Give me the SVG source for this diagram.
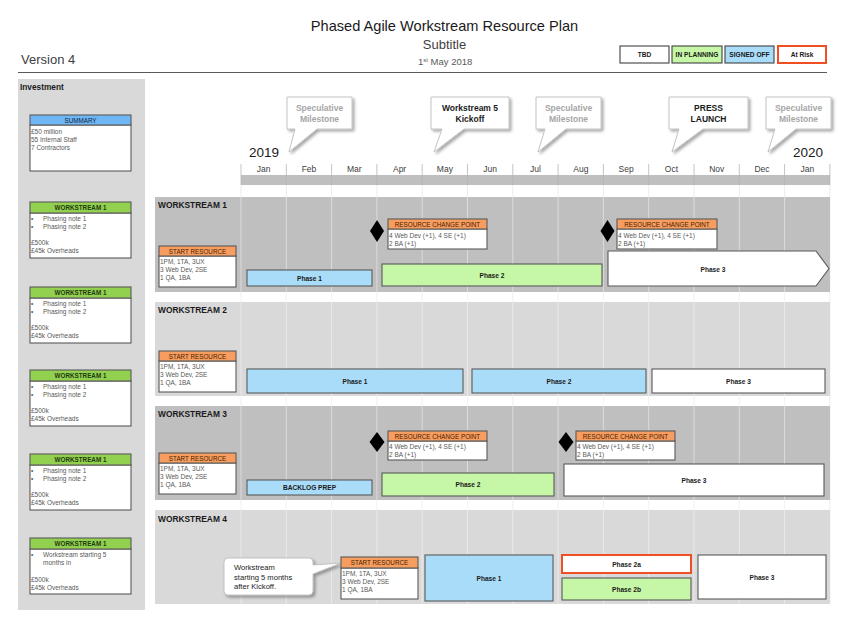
<svg xmlns="http://www.w3.org/2000/svg" width="850" height="638" viewBox="0 0 850 638">
<defs>
<filter id="sh" x="-20%" y="-20%" width="150%" height="160%"><feDropShadow dx="2" dy="2" stdDeviation="1.4" flood-color="#000" flood-opacity="0.35"/></filter>
<style>
text{font-family:"Liberation Sans",Arial,sans-serif}
.bx{stroke:#595959;stroke-width:1.1}
.wh{fill:#ffffff}
.bl{fill:#a9dcf8}
.gr{fill:#c6f7a6}
.or{fill:#f79d5f}
.lg{fill:#92d050}
.sm{fill:#6fb6f5}
.b{font-size:6.5px;fill:#595959}
.hd{font-size:6.3px;text-anchor:middle}
.oh{fill:#4a1e00}
.gh{fill:#1f3a0f;font-weight:bold}
.ph{font-size:6.6px;font-weight:bold;fill:#1a1a1a;text-anchor:middle}
.ws{font-size:8.4px;font-weight:bold;fill:#1a1a1a}
.mo{font-size:8.5px;fill:#404040;text-anchor:middle}
.co{fill:#ffffff;stroke:#bdbdbd;stroke-width:0.9;filter:url(#sh)}
.ct{font-size:8.5px;font-weight:bold;text-anchor:middle}
.dm{fill:#000}
</style>
</defs>
<rect width="850" height="638" fill="#ffffff"/>

<!-- Header -->
<g id="header">
<text x="444.5" y="31" font-size="14.6" fill="#1a1a1a" text-anchor="middle">Phased Agile Workstream Resource Plan</text>
<text x="444.5" y="49" font-size="13" fill="#404040" text-anchor="middle">Subtitle</text>
<text x="418" y="65" font-size="9.5" fill="#595959">1<tspan font-size="6" dy="-3">st</tspan><tspan dy="3"> May 2018</tspan></text>
<text x="21" y="64" font-size="13" fill="#404040">Version 4</text>
<line x1="18" y1="72.5" x2="827" y2="72.5" stroke="#595959" stroke-width="1"/>
</g>

<g id="legend">
<rect x="620" y="46" width="49" height="17" class="wh" stroke="#404040" stroke-width="1.1"/>
<text x="644.5" y="57" class="ph">TBD</text>
<rect x="672" y="46" width="50" height="17" class="gr" stroke="#404040" stroke-width="1.1"/>
<text x="697" y="57" class="ph">IN PLANNING</text>
<rect x="725" y="46" width="49" height="17" class="bl" stroke="#404040" stroke-width="1.1"/>
<text x="749.5" y="57" class="ph">SIGNED OFF</text>
<rect x="778" y="46" width="48" height="17" class="wh" stroke="#f04e23" stroke-width="2"/>
<text x="802" y="57" class="ph">At Risk</text>
</g>

<!-- Left investment panel -->
<g id="investment-panel">
<rect x="18" y="79" width="127" height="531" fill="#d9d9d9"/>
<text x="20" y="90" font-size="8.3" font-weight="bold" fill="#1a1a1a">Investment</text>
</g>

<g id="summary">
<rect x="30" y="125" width="101" height="46" class="wh bx"/>
<rect x="30" y="115" width="101" height="10" class="sm bx"/>
<text x="80.5" y="122.5" class="hd" fill="#10233d">SUMMARY</text>
<text x="31" y="133.5" class="b">£50 million</text>
<text x="31" y="141.5" class="b">55 Internal Staff</text>
<text x="31" y="149.5" class="b">7 Contractors</text>
</g>

<g id="inv-ws1">
<rect x="30" y="213" width="101" height="45" class="wh bx"/>
<rect x="30" y="202" width="101" height="11" class="lg bx"/>
<text x="80.5" y="210" class="hd gh">WORKSTREAM 1</text>
<text x="31" y="220.5" class="b">•</text><text x="43" y="220.5" class="b">Phasing note 1</text>
<text x="31" y="228.5" class="b">•</text><text x="43" y="228.5" class="b">Phasing note 2</text>
<text x="31" y="244.5" class="b">£500k</text>
<text x="31" y="252.5" class="b">£45k Overheads</text>
</g>
<g id="inv-ws2">
<rect x="30" y="298" width="101" height="45" class="wh bx"/>
<rect x="30" y="287" width="101" height="11" class="lg bx"/>
<text x="80.5" y="295" class="hd gh">WORKSTREAM 1</text>
<text x="31" y="305.5" class="b">•</text><text x="43" y="305.5" class="b">Phasing note 1</text>
<text x="31" y="313.5" class="b">•</text><text x="43" y="313.5" class="b">Phasing note 2</text>
<text x="31" y="329.5" class="b">£500k</text>
<text x="31" y="337.5" class="b">£45k Overheads</text>
</g>
<g id="inv-ws3">
<rect x="30" y="381" width="101" height="45" class="wh bx"/>
<rect x="30" y="370" width="101" height="11" class="lg bx"/>
<text x="80.5" y="378" class="hd gh">WORKSTREAM 1</text>
<text x="31" y="388.5" class="b">•</text><text x="43" y="388.5" class="b">Phasing note 1</text>
<text x="31" y="396.5" class="b">•</text><text x="43" y="396.5" class="b">Phasing note 2</text>
<text x="31" y="412.5" class="b">£500k</text>
<text x="31" y="420.5" class="b">£45k Overheads</text>
</g>
<g id="inv-ws4">
<rect x="30" y="465" width="101" height="45" class="wh bx"/>
<rect x="30" y="454" width="101" height="11" class="lg bx"/>
<text x="80.5" y="462" class="hd gh">WORKSTREAM 1</text>
<text x="31" y="472.5" class="b">•</text><text x="43" y="472.5" class="b">Phasing note 1</text>
<text x="31" y="480.5" class="b">•</text><text x="43" y="480.5" class="b">Phasing note 2</text>
<text x="31" y="496.5" class="b">£500k</text>
<text x="31" y="504.5" class="b">£45k Overheads</text>
</g>
<g id="inv-ws5">
<rect x="30" y="549" width="101" height="45" class="wh bx"/>
<rect x="30" y="538" width="101" height="11" class="lg bx"/>
<text x="80.5" y="546" class="hd gh">WORKSTREAM 1</text>
<text x="31" y="556.5" class="b">•</text><text x="43" y="556.5" class="b">Workstream starting 5</text>
<text x="43" y="564.5" class="b">months in</text>
<text x="31" y="581.5" class="b">£500k</text>
<text x="31" y="589.5" class="b">£45k Overheads</text>
</g>

<!-- Timeline header -->
<g id="timeline">
<path d="M241 185V604M286.3 185V604M331.6 185V604M376.9 185V604M422.2 185V604M467.5 185V604M512.8 185V604M558.1 185V604M603.4 185V604M648.7 185V604M694 185V604M739.3 185V604M784.6 185V604M829.9 185V604" stroke="#ececec" stroke-width="1" fill="none"/>
<rect x="241" y="175" width="589" height="10" fill="#bfbfbf"/>
<path d="M241 164V185M286.3 164V185M331.6 164V185M376.9 164V185M422.2 164V185M467.5 164V185M512.8 164V185M558.1 164V185M603.4 164V185M648.7 164V185M694 164V185M739.3 164V185M784.6 164V185M829.9 164V185" stroke="#b5b5b5" stroke-width="0.8" fill="none"/>
<text x="249" y="157" font-size="13.5" fill="#1a1a1a">2019</text>
<text x="793" y="157" font-size="13.5" fill="#1a1a1a">2020</text>
<text x="263.6" y="172" class="mo">Jan</text>
<text x="309" y="172" class="mo">Feb</text>
<text x="354.3" y="172" class="mo">Mar</text>
<text x="399.6" y="172" class="mo">Apr</text>
<text x="444.9" y="172" class="mo">May</text>
<text x="490.2" y="172" class="mo">Jun</text>
<text x="535.5" y="172" class="mo">Jul</text>
<text x="580.8" y="172" class="mo">Aug</text>
<text x="626.1" y="172" class="mo">Sep</text>
<text x="671.4" y="172" class="mo">Oct</text>
<text x="716.7" y="172" class="mo">Nov</text>
<text x="762" y="172" class="mo">Dec</text>
<text x="807.3" y="172" class="mo">Jan</text>
</g>

<!-- Workstream bands -->
<g id="bands">
<rect x="155" y="197" width="675" height="95" fill="#bfbfbf"/>
<rect x="155" y="302" width="675" height="94" fill="#d9d9d9"/>
<rect x="155" y="406" width="675" height="94" fill="#bfbfbf"/>
<rect x="155" y="510" width="675" height="94" fill="#d9d9d9"/>
<path d="M241 197V604M286.3 197V604M331.6 197V604M376.9 197V604M422.2 197V604M467.5 197V604M512.8 197V604M558.1 197V604M603.4 197V604M648.7 197V604M694 197V604M739.3 197V604M784.6 197V604" stroke="#ffffff" stroke-opacity="0.45" stroke-width="1" fill="none"/>
<text x="158" y="208" class="ws">WORKSTREAM 1</text>
<text x="158" y="313" class="ws">WORKSTREAM 2</text>
<text x="158" y="417" class="ws">WORKSTREAM 3</text>
<text x="158" y="522" class="ws">WORKSTREAM 4</text>
</g>

<!-- Milestone callouts -->
<g id="ms-spec-1">
<path class="co" d="M287 97H352V129H317L289 152L295 129H287Z"/>
<text x="319.5" y="111" class="ct" fill="#a6a6a6">Speculative</text>
<text x="319.5" y="122" class="ct" fill="#a6a6a6">Milestone</text>
</g>
<g id="ms-kickoff">
<path class="co" d="M431 97H509V129H464L434 152L442 129H431Z"/>
<text x="470" y="111" class="ct" fill="#1a1a1a">Workstream 5</text>
<text x="470" y="122" class="ct" fill="#1a1a1a">Kickoff</text>
</g>
<g id="ms-spec-2">
<path class="co" d="M536 97H601V129H566L538 152L545 129H536Z"/>
<text x="568.5" y="111" class="ct" fill="#a6a6a6">Speculative</text>
<text x="568.5" y="122" class="ct" fill="#a6a6a6">Milestone</text>
</g>
<g id="ms-press">
<path class="co" d="M669 97H748V129H703L672 152L679 129H669Z"/>
<text x="708.5" y="111" class="ct" fill="#1a1a1a">PRESS</text>
<text x="708.5" y="122" class="ct" fill="#1a1a1a">LAUNCH</text>
</g>
<g id="ms-spec-3">
<path class="co" d="M766 97H831V129H796L768 152L775 129H766Z"/>
<text x="798.5" y="111" class="ct" fill="#a6a6a6">Speculative</text>
<text x="798.5" y="122" class="ct" fill="#a6a6a6">Milestone</text>
</g>

<!-- Workstream 1 -->
<g id="ws1-start">
<rect x="159" y="256" width="77" height="31" class="wh bx"/>
<rect x="159" y="246" width="77" height="10" class="or bx"/>
<text x="197.5" y="253.5" class="hd oh">START RESOURCE</text>
<text x="160" y="263.5" class="b">1PM, 1TA, 3UX</text>
<text x="160" y="271.5" class="b">3 Web Dev, 2SE</text>
<text x="160" y="279.5" class="b">1 QA, 1BA</text>
</g>
<g id="ws1-phase1">
<rect x="247" y="270" width="125" height="16" class="bl bx"/>
<text x="309.5" y="280.5" class="ph">Phase 1</text>
</g>
<g id="ws1-rcp1">
<polygon class="dm" points="377,220 384,231 377,242 370,231"/>
<rect x="388" y="229" width="99" height="20" class="wh bx"/>
<rect x="388" y="219" width="99" height="10" class="or bx"/>
<text x="437.5" y="226.5" class="hd oh">RESOURCE CHANGE POINT</text>
<text x="389" y="237.5" class="b">4 Web Dev (+1), 4 SE (+1)</text>
<text x="389" y="245.5" class="b">2 BA (+1)</text>
</g>
<g id="ws1-phase2">
<rect x="382" y="264" width="220" height="22" class="gr bx"/>
<text x="492" y="277.5" class="ph">Phase 2</text>
</g>
<g id="ws1-rcp2">
<polygon class="dm" points="607.5,220 614.5,231 607.5,242 600.5,231"/>
<rect x="617" y="229" width="100" height="20" class="wh bx"/>
<rect x="617" y="219" width="100" height="10" class="or bx"/>
<text x="667" y="226.5" class="hd oh">RESOURCE CHANGE POINT</text>
<text x="618" y="237.5" class="b">4 Web Dev (+1), 4 SE (+1)</text>
<text x="618" y="245.5" class="b">2 BA (+1)</text>
</g>
<g id="ws1-phase3">
<path d="M608 251H816L829 268.5L816 286H608Z" class="wh bx"/>
<text x="713" y="271.5" class="ph">Phase 3</text>
</g>

<!-- Workstream 2 -->
<g id="ws2-start">
<rect x="159" y="361" width="77" height="31" class="wh bx"/>
<rect x="159" y="351" width="77" height="10" class="or bx"/>
<text x="197.5" y="358.5" class="hd oh">START RESOURCE</text>
<text x="160" y="368.5" class="b">1PM, 1TA, 3UX</text>
<text x="160" y="376.5" class="b">3 Web Dev, 2SE</text>
<text x="160" y="384.5" class="b">1 QA, 1BA</text>
</g>
<g id="ws2-phase1">
<rect x="247" y="369" width="216" height="24" class="bl bx"/>
<text x="355" y="383.5" class="ph">Phase 1</text>
</g>
<g id="ws2-phase2">
<rect x="472" y="369" width="174" height="24" class="bl bx"/>
<text x="559" y="383.5" class="ph">Phase 2</text>
</g>
<g id="ws2-phase3">
<rect x="652" y="369" width="173" height="24" class="wh bx"/>
<text x="738.5" y="383.5" class="ph">Phase 3</text>
</g>

<!-- Workstream 3 -->
<g id="ws3-start">
<rect x="159" y="463" width="77" height="31" class="wh bx"/>
<rect x="159" y="453" width="77" height="10" class="or bx"/>
<text x="197.5" y="460.5" class="hd oh">START RESOURCE</text>
<text x="160" y="470.5" class="b">1PM, 1TA, 3UX</text>
<text x="160" y="478.5" class="b">3 Web Dev, 2SE</text>
<text x="160" y="486.5" class="b">1 QA, 1BA</text>
</g>
<g id="ws3-backlog">
<rect x="247" y="480" width="125" height="15" class="bl bx"/>
<text x="309.5" y="490" class="ph">BACKLOG PREP</text>
</g>
<g id="ws3-rcp1">
<polygon class="dm" points="377,432 384.5,442 377,452 369.5,442"/>
<rect x="388" y="441" width="99" height="19" class="wh bx"/>
<rect x="388" y="431" width="99" height="10" class="or bx"/>
<text x="437.5" y="438.5" class="hd oh">RESOURCE CHANGE POINT</text>
<text x="389" y="449" class="b">4 Web Dev (+1), 4 SE (+1)</text>
<text x="389" y="457" class="b">2 BA (+1)</text>
</g>
<g id="ws3-phase2">
<rect x="382" y="473" width="172" height="23" class="gr bx"/>
<text x="468" y="487" class="ph">Phase 2</text>
</g>
<g id="ws3-phase3">
<rect x="564" y="464" width="260" height="32" class="wh bx"/>
<text x="694" y="482.5" class="ph">Phase 3</text>
</g>
<g id="ws3-rcp2">
<polygon class="dm" points="566,432 573.5,442 566,452 558.5,442"/>
<rect x="576" y="441" width="99" height="19" class="wh bx"/>
<rect x="576" y="431" width="99" height="10" class="or bx"/>
<text x="625.5" y="438.5" class="hd oh">RESOURCE CHANGE POINT</text>
<text x="577" y="449" class="b">4 Web Dev (+1), 4 SE (+1)</text>
<text x="577" y="457" class="b">2 BA (+1)</text>
</g>

<!-- Workstream 4 -->
<g id="ws4-note">
<path class="co" d="M228 558H309Q313 558 313 562V565L341 563L313 574V591Q313 595 309 595H228Q224 595 224 591V562Q224 558 228 558Z"/>
<text x="234" y="570" font-size="7.6" fill="#1a1a1a">Workstream</text>
<text x="234" y="579.5" font-size="7.6" fill="#1a1a1a">starting 5 months</text>
<text x="234" y="589" font-size="7.6" fill="#1a1a1a">after Kickoff.</text>
</g>
<g id="ws4-start">
<rect x="341" y="568" width="77" height="31" class="wh bx"/>
<rect x="341" y="557" width="77" height="11" class="or bx"/>
<text x="379.5" y="565" class="hd oh">START RESOURCE</text>
<text x="342" y="575.5" class="b">1PM, 1TA, 3UX</text>
<text x="342" y="583.5" class="b">3 Web Dev, 2SE</text>
<text x="342" y="591.5" class="b">1 QA, 1BA</text>
</g>
<g id="ws4-phase1">
<rect x="425" y="555" width="128" height="46" class="bl bx"/>
<text x="489" y="580.5" class="ph">Phase 1</text>
</g>
<g id="ws4-phase2a">
<rect x="562" y="555" width="129" height="18" class="wh" stroke="#f04e23" stroke-width="2"/>
<text x="626.5" y="566.5" class="ph">Phase 2a</text>
</g>
<g id="ws4-phase2b">
<rect x="562" y="578" width="129" height="22" class="gr bx"/>
<text x="626.5" y="591.5" class="ph">Phase 2b</text>
</g>
<g id="ws4-phase3">
<rect x="698" y="555" width="128" height="44" class="wh bx"/>
<text x="762" y="579.5" class="ph">Phase 3</text>
</g>

<g id="connectors"/>
</svg>
